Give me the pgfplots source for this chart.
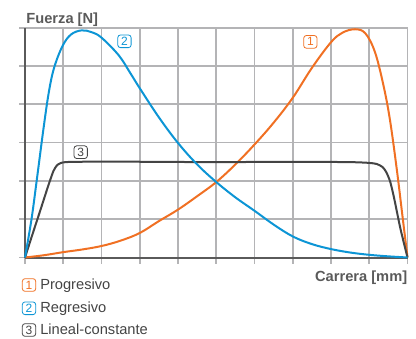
\documentclass[border=0pt]{standalone}
\usepackage{pgfplots}
\pgfplotsset{compat=1.18}
\usepackage{fontspec}
\setmainfont{Liberation Sans}

\definecolor{cOrange}{HTML}{F07023}
\definecolor{cBlue}{HTML}{0C95D5}
\definecolor{cDark}{HTML}{444444}
\definecolor{cGrid}{HTML}{B4B4B6}
\definecolor{cAxis}{HTML}{5A5A5A}
\definecolor{cText}{HTML}{444444}

\begin{document}
\begin{tikzpicture}[
  numbox/.style={draw=#1, text=#1, rounded corners=2pt, line width=0.6pt,
    minimum width=10pt, minimum height=9.5pt, inner sep=0pt,
    font=\fontsize{9}{9}\selectfont},
  lbl/.style={text=cText, font=\fontsize{11}{13}\selectfont, inner sep=0pt},
  ttl/.style={text=cAxis, font=\fontsize{11}{13}\selectfont\bfseries, inner sep=0pt},
]
\begin{axis}[
  scale only axis, width=286.875pt, height=172.35pt,
  xmin=0, xmax=10, ymin=0, ymax=6,
  xtick={0,...,10}, ytick={0,...,6},
  xticklabels={}, yticklabels={},
  axis lines=left, axis line style={-, cAxis, line width=1.5pt},
  grid=major, major grid style={cGrid, line width=1.3pt},
  tick align=outside, major tick length=4.5pt,
  tick style={cGrid, line width=1.3pt},
  clip=false,
]
% Progresivo
\addplot[cOrange, line width=1.5pt, smooth, tension=0.6] coordinates {
  (0,0) (0.5,0.06) (1.0,0.14) (1.5,0.21) (2.0,0.30) (2.5,0.44)
  (3.0,0.64) (3.5,0.95) (4.0,1.25) (4.5,1.60) (5.0,1.97) (5.5,2.43)
  (6.0,2.95) (6.5,3.52) (7.0,4.17) (7.5,4.95) (8.0,5.62) (8.3,5.87)
  (8.63,5.96) (8.9,5.85) (9.15,5.36) (9.37,4.50) (9.54,3.60)
  (9.72,2.30) (9.86,1.15) (10,0)
};
% Lineal-constante
\addplot[cDark, line width=1.5pt, smooth, tension=0.4] coordinates {
  (0,0) (0.2,0.62) (0.4,1.23) (0.6,1.85) (0.74,2.25) (0.83,2.40)
  (0.92,2.46) (1.05,2.49) (1.5,2.50) (3,2.50) (5,2.49) (7,2.50)
  (8.5,2.49) (9.0,2.47) (9.2,2.44) (9.35,2.36) (9.45,2.22) (9.55,1.97)
  (9.65,1.55) (9.8,0.82) (9.9,0.40) (10,0)
};
% Regresivo
\addplot[cBlue, line width=1.5pt, smooth, tension=0.6] coordinates {
  (0,0) (0.17,1.0) (0.31,2.04) (0.48,3.34) (0.62,4.30) (0.76,4.95)
  (0.98,5.52) (1.2,5.82) (1.48,5.93) (1.75,5.88) (2.0,5.74) (2.45,5.28)
  (2.75,4.82) (3.0,4.42) (3.5,3.66) (4.0,2.99) (4.5,2.43) (5.0,1.97)
  (5.5,1.57) (6.0,1.22) (6.5,0.86) (7.0,0.55) (7.5,0.35) (8.0,0.22)
  (8.5,0.13) (9.0,0.07) (9.5,0.03) (10,0)
};
% labels inside the chart
\node[numbox=cBlue] at (axis cs:2.60,5.645) {2};
\node[numbox=cOrange] at (axis cs:7.46,5.63) {1};
\node[numbox=cDark] at (axis cs:1.456,2.75) {3};
% axis titles
\node[ttl, anchor=base west] at (axis cs:0.03,6.115) {Fuerza [N]};
\node[ttl, anchor=base east] at (axis cs:10,-0.632) {Carrera [mm]};
% legend
\node[numbox=cOrange] at (axis cs:0.105,-0.718) {1};
\node[lbl, anchor=base west] at (axis cs:0.392,-0.83) {Progresivo};
\node[numbox=cBlue] at (axis cs:0.105,-1.326) {2};
\node[lbl, anchor=base west] at (axis cs:0.392,-1.44) {Regresivo};
\node[numbox=cDark] at (axis cs:0.105,-1.893) {3};
\node[lbl, anchor=base west] at (axis cs:0.392,-2.02) {Lineal-constante};
\end{axis}
\pgfresetboundingbox
\path (current axis.south west) ++(-18.75pt,-60.375pt) rectangle ++(312pt,253.5pt);
\end{tikzpicture}
\end{document}
